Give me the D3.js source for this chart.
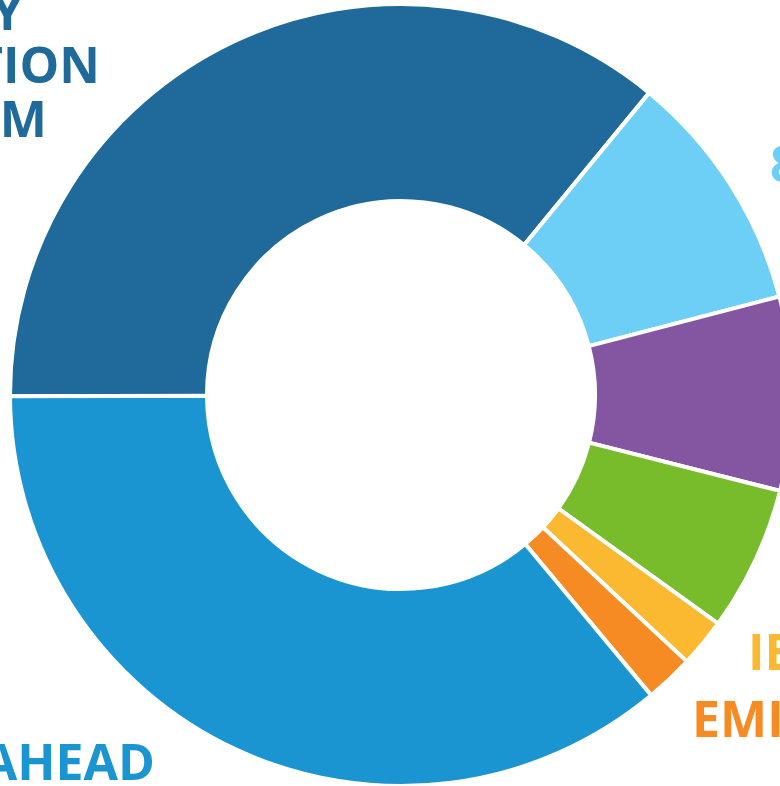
<!DOCTYPE html>
<meta charset="utf-8">
<style>
    body { margin: 0; background: #fff; }
    svg { display: block; }
    .labels text {
        font-family: "Open Sans", sans-serif;
        font-weight: 700;
        font-size: 50px;
    }
</style>
<svg width="780" height="786"></svg>

<script src="https://d3js.org/d3.v7.min.js"></script>
<script>
    // slices, clockwise from the left edge
    var categories = ["A", "B", "C", "D", "E", "F", "G"];
    var values = [36, 10, 8, 6, 2, 2, 36];
    var colors = ["#1f6a9a", "#6dcff6", "#8456a2", "#78bc2b", "#fbb831", "#f68b24", "#1a95d2"];

    // what is left of the labels inside the frame
    var labelLines = [
        { text: "Y", slice: 0 },
        { text: "TION", slice: 0 },
        { text: "M", slice: 0 },
        { text: "8", slice: 1 },
        { text: "IE", slice: 4 },
        { text: "EMI", slice: 5 },
        { text: "AHEAD", slice: 6 }
    ];
    var labelPlace = [
        [23, 30, "end"], [100, 83, "end"], [47, 137, "end"],
        [770, 182, "start"], [748, 670, "start"], [692, 737, "start"],
        [155, 780, "end"]
    ];

    var width = 780, height = 786;
    var cx = 401, cy = 395;

    var svg = d3.select("svg");

    var pie = d3.pie()
        .sort(null)
        .value(function (d) { return d; })
        .startAngle(-90.2 * Math.PI / 180)
        .endAngle(269.8 * Math.PI / 180);

    var arc = d3.arc()
        .innerRadius(194)
        .outerRadius(391);

    var g = svg.append("g")
        .attr("transform", "translate(" + cx + "," + cy + ")");

    g.selectAll("path")
        .data(pie(values))
        .enter().append("path")
        .attr("d", arc)
        .attr("fill", function (d, i) { return colors[i]; })
        .attr("stroke", "#fff")
        .attr("stroke-width", 4)
        .attr("stroke-linejoin", "miter");

    svg.append("g")
        .attr("class", "labels")
        .selectAll("text")
        .data(labelLines)
        .enter().append("text")
        .attr("x", function (d, i) { return labelPlace[i][0]; })
        .attr("y", function (d, i) { return labelPlace[i][1]; })
        .attr("text-anchor", function (d, i) { return labelPlace[i][2]; })
        .attr("fill", function (d) { return colors[d.slice]; })
        .text(function (d) { return d.text; });
</script>
